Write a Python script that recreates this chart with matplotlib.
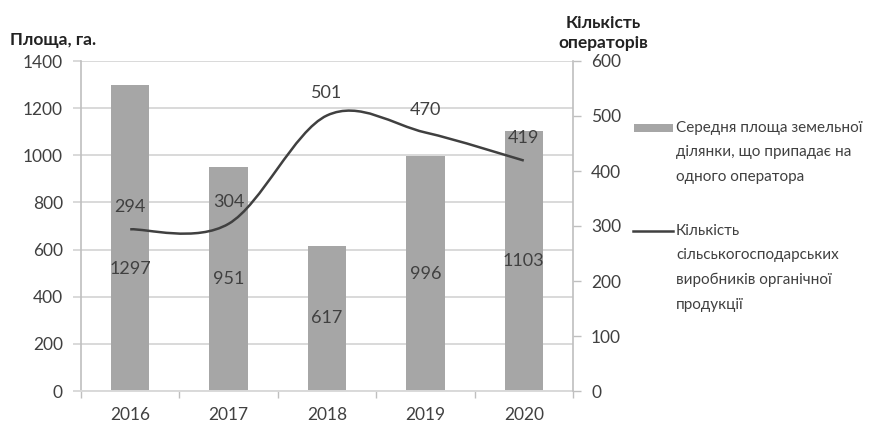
import matplotlib
matplotlib.use("Agg")
import matplotlib.pyplot as plt
from matplotlib.path import Path
from matplotlib.patches import PathPatch, Rectangle
from matplotlib.lines import Line2D
import numpy as np

plt.rcParams['font.family'] = ['Lato', 'DejaVu Sans']

years = ["2016", "2017", "2018", "2019", "2020"]
area = [1297, 951, 617, 996, 1103]
operators = [294, 304, 501, 470, 419]
area_label = "Середня площа земельної\nділянки, що припадає на\nодного оператора"
oper_label = "Кількість\nсільськогосподарських\nвиробників органічної\nпродукції"
left_title = "Площа, га."
right_title = "Кількість\nоператорів"

TXT = "#404040"
GRID = "#d9d9d9"
SPINE = "#bfbfbf"
BAR = "#a6a6a6"
LINE = "#404040"

fig = plt.figure(figsize=(8.95, 4.23), dpi=100)
ax = fig.add_axes([81 / 895, 1 - 391 / 423, (573 - 81) / 895, (391 - 61) / 423])
ax2 = ax.twinx()

x = np.arange(len(years))
bars = ax.bar(x, area, width=0.39, color=BAR, zorder=2)
ax.set_xlim(-0.5, len(years) - 0.5)
ax.set_ylim(0, 1400)
ax.set_yticks(np.arange(0, 1401, 200))
ax.grid(axis='y', color=GRID, linewidth=1.4, zorder=0)
ax.set_axisbelow(True)
ax.set_xticks(x)
ax.set_xticklabels(years)
ax.set_xticks(np.arange(-0.5, len(years)), minor=True)
ax.tick_params(axis='x', which='major', length=0, pad=11.5, labelsize=12.5, labelcolor=TXT)
ax.tick_params(axis='x', which='minor', length=5, color=SPINE, width=1)
ax.tick_params(axis='y', length=6, color=GRID, width=1.4, pad=7, labelsize=12.5, labelcolor=TXT)
for s in ['top', 'right']:
    ax.spines[s].set_visible(False)
ax.spines['left'].set_color(SPINE)
ax.spines['bottom'].set_color(GRID)
ax.spines['left'].set_linewidth(1.2)
ax.spines['bottom'].set_linewidth(1.4)

ax2.set_ylim(0, 600)
ax2.set_yticks(np.arange(0, 601, 100))
ax2.tick_params(axis='y', length=6, color=SPINE, width=1, pad=7, labelsize=12.5, labelcolor=TXT)
for s in ['top', 'left', 'bottom']:
    ax2.spines[s].set_visible(False)
ax2.spines['right'].set_color(SPINE)
ax2.spines['right'].set_linewidth(1.2)

# smoothed line (Catmull-Rom style Bezier through the data points)
pts = np.column_stack([x, operators]).astype(float)
verts = [tuple(pts[0])]
codes = [Path.MOVETO]
n = len(pts)
for i in range(n - 1):
    p0 = pts[i - 1] if i > 0 else pts[i]
    p1 = pts[i]
    p2 = pts[i + 1]
    p3 = pts[i + 2] if i + 2 < n else pts[i + 1]
    c1 = p1 + (p2 - p0) / 6
    c2 = p2 - (p3 - p1) / 6
    verts += [tuple(c1), tuple(c2), tuple(p2)]
    codes += [Path.CURVE4] * 3
ax2.add_patch(PathPatch(Path(verts, codes), facecolor='none', edgecolor=LINE,
                        linewidth=1.8, zorder=3, capstyle='butt'))

# data labels
for i, v in enumerate(area):
    yl = v / 2 if i != 0 else v * 0.40
    ax.text(i, yl, str(v), ha='center', va='center', fontsize=13, color=TXT, zorder=4)
for i, v in enumerate(operators):
    ax2.annotate(str(v), (i, v), xytext=(0, 16), textcoords='offset points',
                 ha='center', va='center', fontsize=13, color=TXT)

# axis titles
fig.text(10 / 895, 1 - 40 / 423, left_title, ha='left', va='center',
         fontsize=12.5, fontweight='bold', color='#222222')
fig.text(603 / 895, 1 - 33 / 423, right_title, ha='center', va='center',
         fontsize=12.5, fontweight='bold', color='#222222', linespacing=1.35)

# legend (drawn manually to mimic Excel's top-aligned handles)
fig.patches.append(Rectangle((634 / 895, 1 - 132 / 423), 39 / 895, 8 / 423,
                             transform=fig.transFigure, facecolor=BAR, edgecolor='none'))
fig.text(676 / 895, 1 - 121 / 423, area_label, ha='left', va='top',
         fontsize=11, color=TXT, linespacing=1.95)
fig.lines.append(Line2D([633 / 895, 673 / 895], [1 - 231 / 423, 1 - 231 / 423],
                        transform=fig.transFigure, color=LINE, linewidth=1.8))
fig.text(676 / 895, 1 - 224 / 423, oper_label, ha='left', va='top',
         fontsize=11, color=TXT, linespacing=1.95)

fig.savefig("out.png", dpi=100)
